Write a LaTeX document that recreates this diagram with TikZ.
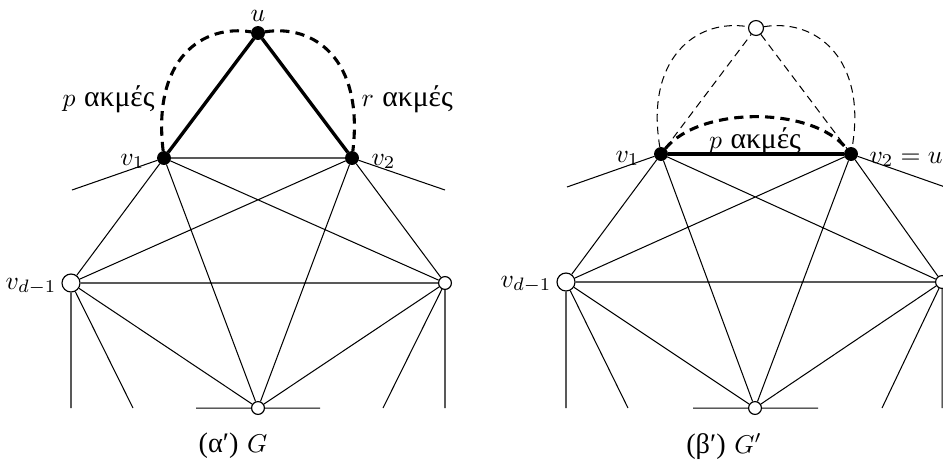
\documentclass[tikz,border=0pt]{standalone}
\usepackage{fontspec}
\newfontfamily\grfont{Liberation Serif}
\begin{document}
\begin{tikzpicture}[x=0.389pt,y=-0.389pt,
  edge/.style={line width=0.4pt},
  filled/.style={circle,fill=black,draw=black,inner sep=0pt,minimum size=5pt},
  openv/.style={circle,draw=black,fill=white,inner sep=0pt,minimum size=5pt,line width=0.45pt},
  bigopen/.style={openv,minimum size=7pt},
  thickedge/.style={line width=1.3pt},
  thickdash/.style={line width=1.2pt,dash pattern=on 3.6pt off 2.4pt},
  thindash/.style={line width=0.4pt,dash pattern=on 3pt off 2pt},
  lbl/.style={inner sep=0pt},
  grw/.style={inner sep=0pt,font=\fontsize{10}{12}\selectfont}
]
\useasboundingbox (0,0) rectangle (943,463);
\clip (0,0) rectangle (943,463);

% ---------- left panel ----------
\node[filled] (u) at (258,33) {};
\node[filled] (a1) at (164,158) {};
\node[filled] (a2) at (352,158) {};
\node[bigopen] (ad) at (71,283) {};
\node[openv] (aw) at (445,283) {};
\node[openv] (ab) at (258,408) {};
\coordinate (as1) at (72,190);
\coordinate (as2) at (445,190);
\coordinate (as3) at (71,408);
\coordinate (as4) at (133,408);
\coordinate (as5) at (383,408);
\coordinate (as6) at (445,408);
\coordinate (as7) at (196,408);
\coordinate (as8) at (320,408);

\draw[edge] (a1) -- (a2) (a1) -- (ad) (a1) -- (ab) (a1) -- (aw) (a1) -- (as1)
  (a2) -- (ad) (a2) -- (ab) (a2) -- (aw) (a2) -- (as2)
  (ad) -- (aw) (ad) -- (ab) (ad) -- (as3) (ad) -- (as4)
  (aw) -- (ab) (aw) -- (as5) (aw) -- (as6)
  (as7) -- (ab) -- (as8);
\draw[thickedge] (a1) -- (u) -- (a2);
\draw[thickdash] (a1) .. controls (152,58) and (203,24) .. (u);
\draw[thickdash] (u) .. controls (313,24) and (364,58) .. (a2);

\node[lbl,anchor=base] (lu) at (258,21) {$u$};
\node[lbl,anchor=base east] (la1) at (145,165) {$v_1$};
\node[lbl,anchor=base west] (la2) at (371,165) {$v_2$};
\node[lbl,anchor=base east] (lad) at (57,289) {$v_{d-1}$};
\node[lbl,anchor=base east] (lp) at (155,106) {$p$ {\grfont\fontsize{11.5}{13}\selectfont ακμές}};
\node[lbl,anchor=base west] (lr) at (361,106) {$r$ {\grfont\fontsize{11.5}{13}\selectfont ακμές}};
\node[lbl,anchor=base] (capa) at (233,452) {{\grfont\fontsize{11}{13}\selectfont (α′)} $G$};

% ---------- right panel ----------
\node[openv,minimum size=5.8pt] (ru) at (756,28) {};
\node[filled] (b1) at (661,154) {};
\node[filled] (b2) at (851,154) {};
\node[bigopen] (bd) at (566,282) {};
\node[openv] (bw) at (942,282) {};
\node[openv] (bb) at (755,408) {};
\coordinate (bs1) at (567,187);
\coordinate (bs2) at (945,187);
\coordinate (bs3) at (566,408);
\coordinate (bs4) at (628,408);
\coordinate (bs5) at (882,408);
\coordinate (bs6) at (942,408);
\coordinate (bs7) at (693,408);
\coordinate (bs8) at (818,408);

\draw[edge] (b1) -- (bd) (b1) -- (bb) (b1) -- (bw) (b1) -- (bs1)
  (b2) -- (bd) (b2) -- (bb) (b2) -- (bw) (b2) -- (bs2)
  (bd) -- (bw) (bd) -- (bb) (bd) -- (bs3) (bd) -- (bs4)
  (bw) -- (bb) (bw) -- (bs5) (bw) -- (bs6)
  (bs7) -- (bb) -- (bs8);
\draw[thindash] (b1) -- (ru) -- (b2);
\draw[thindash] (b1) .. controls (645,60) and (695,18) .. (ru);
\draw[thindash] (ru) .. controls (817,18) and (867,60) .. (b2);
\draw[thickedge] (b1) -- (b2);
\draw[thickdash] (b1) .. controls (700,106) and (812,106) .. (b2);

\node[lbl,anchor=base east] (lb1) at (640,162) {$v_1$};
\node[lbl,anchor=base west] (lb2) at (869,163) {$v_2 = u'$};
\node[lbl,anchor=base east] (lbd) at (552,287) {$v_{d-1}$};
\node[lbl,anchor=base] (lq) at (755,148) {$p$ {\grfont\fontsize{11.5}{13}\selectfont ακμές}};
\node[lbl,anchor=base] (capb) at (724,453) {{\grfont\fontsize{11}{13}\selectfont (β′)} $G'$};
\end{tikzpicture}
\end{document}
